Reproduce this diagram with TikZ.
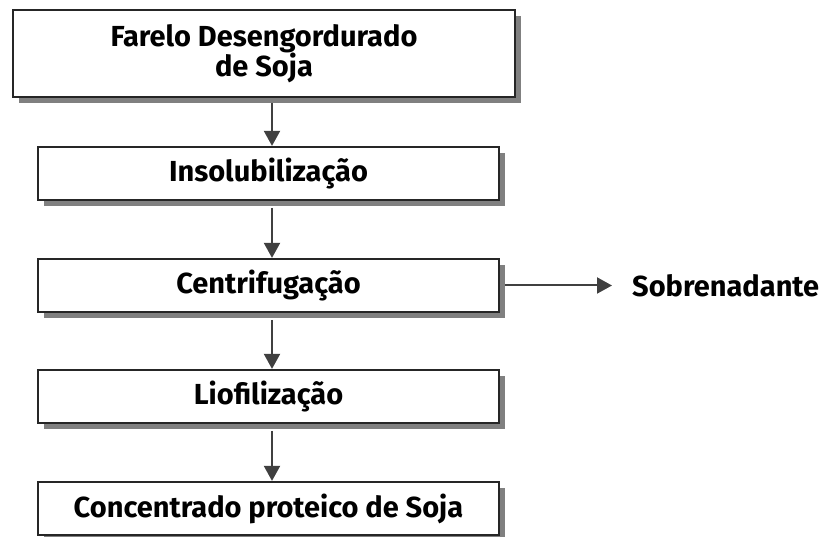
\documentclass[tikz,border=0pt]{standalone}
\usepackage{fontspec}
\setmainfont{Fira Sans}
\usetikzlibrary{arrows.meta,shadows}
\begin{document}
\begin{tikzpicture}[x=1pt,y=1pt,
  stepbox/.style={draw=black!85, line width=2.2pt, fill=white, inner sep=0pt,
    minimum width=461pt, minimum height=53pt, align=center,
    font=\fontsize{29}{30}\selectfont\bfseries,
    drop shadow={shadow xshift=6pt, shadow yshift=-6pt, fill=black!50, opacity=1}},
  flow/.style={draw=black!75, line width=2pt, -{Triangle[length=15pt,width=16pt]}}]
\useasboundingbox (0,0) rectangle (825,537);
\node[stepbox, minimum width=502pt, minimum height=87pt] (b1) at (264,483.5) {Farelo Desengordurado\\de Soja};
\node[stepbox] (b2) at (268.5,363.5) {Insolubilização};
\node[stepbox] (b3) at (268.5,251.5) {Centrifugação};
\node[stepbox] (b4) at (268.5,140.5) {Liofilização};
\node[stepbox] (b5) at (268.5,28.5) {Concentrado proteico de Soja};
\node[anchor=west, inner sep=0pt, font=\fontsize{29}{30}\selectfont\bfseries] (s) at (632,251) {Sobrenadante};
\coordinate (a1) at (272,434);
\draw[flow] (a1) -- (a1 |- b2.north);
\coordinate (a2) at (272,329);
\draw[flow] (a2) -- (a2 |- b3.north);
\coordinate (a3) at (272,217);
\draw[flow] (a3) -- (a3 |- b4.north);
\coordinate (a4) at (272,106);
\draw[flow] (a4) -- (a4 |- b5.north);
\coordinate (c3) at (505,251.5);
\draw[flow] (c3) -- (612,251.5);
\end{tikzpicture}
\end{document}
